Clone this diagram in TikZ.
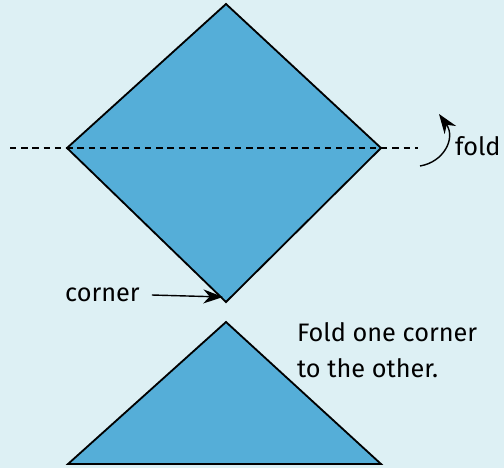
\documentclass[tikz,border=0pt]{standalone}
\usepackage{fontspec}
\setmainfont{Fira Sans}
\usetikzlibrary{arrows.meta}
\definecolor{paper}{HTML}{DDF0F4}
\definecolor{sheet}{HTML}{55AED8}

\begin{document}
\begin{tikzpicture}[x=0.5mm,y=-0.5mm,edge/.style={line width=2.6pt,line join=miter},foldline/.style={line width=2pt,dash pattern=on 9pt off 7pt},lbl/.style={font=\fontsize{36}{43}\selectfont,inner sep=0pt,anchor=west},pointer/.style={-{Stealth[length=28pt,width=20pt]},line width=2pt}]
\fill[paper] (0,0) rectangle (504,468);
\useasboundingbox (0,0) rectangle (504,468);
\coordinate (T) at (226,4);
\coordinate (L) at (67,148);
\coordinate (R) at (381,148);
\coordinate (B) at (226,302);
\coordinate (A) at (226,322);
\coordinate (BL) at (68,464);
\coordinate (BR) at (381,464);
\draw[edge,fill=sheet] (T) -- (R) -- (B) -- (L) -- cycle;
\draw[edge,fill=sheet] (A) -- (BR) -- (BL) -- cycle;
\coordinate (DL) at (10,148);
\coordinate (DR) at (418,148);
\draw[foldline] (DL) -- (DR);
\coordinate (FA) at (420,166);
\coordinate (FB) at (439,114);
\draw[pointer] (FA) .. controls (444,162) and (456,138) .. (FB);
\node[lbl] (fold) at (455,146) {fold};
\node[lbl] (corner) at (65,295) {corner};
\coordinate (C) at (223,297);
\draw[pointer] ([xshift=12*0.5mm]corner.east) -- (C);
\node[lbl] (t1) at (297,332) {Fold one corner};
\node[lbl] (t2) at (297,368) {to the other.};
\end{tikzpicture}
\end{document}
